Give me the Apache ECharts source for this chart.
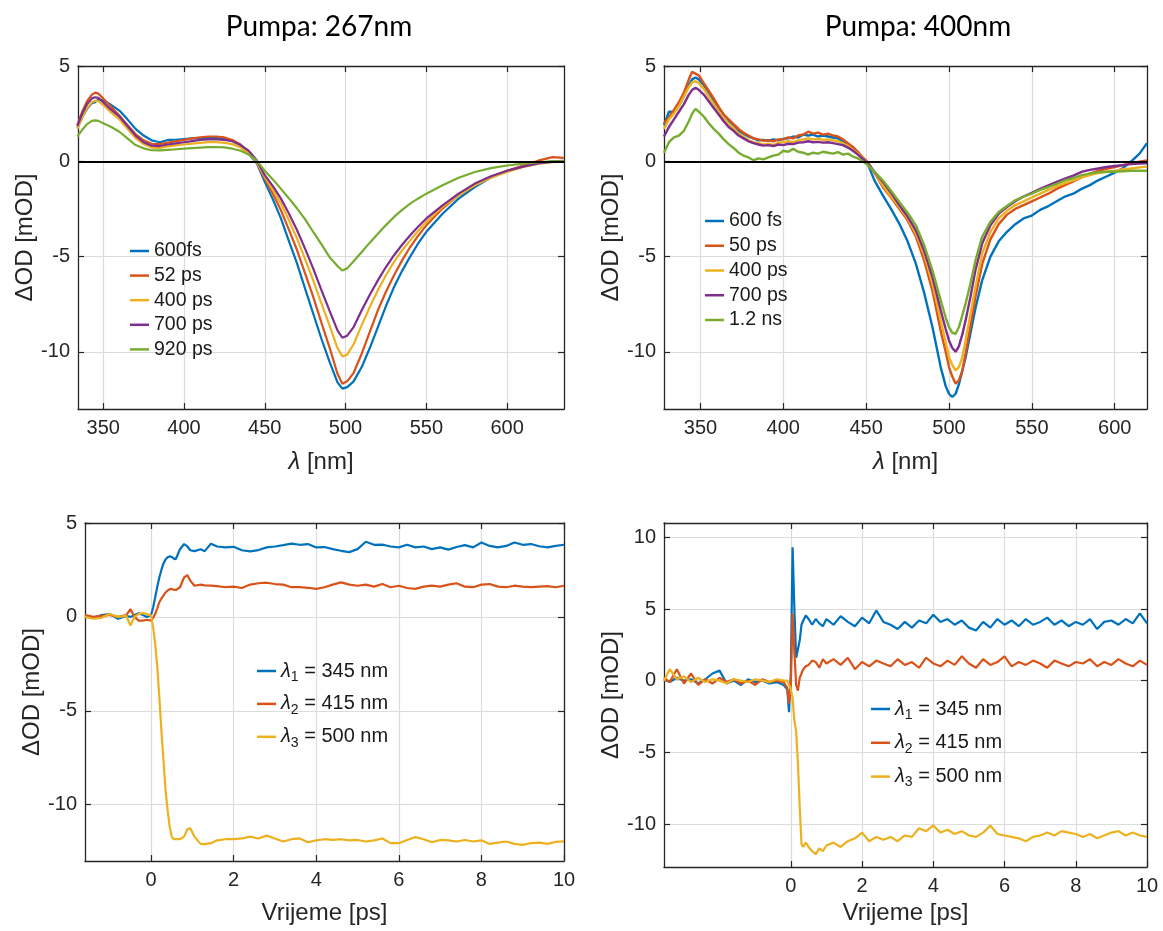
<!DOCTYPE html>
<html><head><meta charset="utf-8">
<script src="https://cdn.jsdelivr.net/npm/echarts@6/dist/echarts.min.js"></script>
<style>html,body{margin:0;padding:0;background:#fff}#c{width:1163px;height:931px}</style>
</head><body><div id="c"></div>
<script>
// ---------- Plot 1: Pumpa 267nm ----------
const wl1 = [334,337,340,343,345,347,350,355,360,365,370,375,380,385,390,395,400,405,410,415,420,425,430,435,440,445,450,455,460,465,470,475,480,485,490,495,498,501,505,510,515,520,525,530,535,540,545,550,560,570,580,590,600,610,620,628,635];
const p1_600fs = [1.75,2.3,2.75,3.05,3.1,3.25,3.2,2.95,2.66,2.2,1.7,1.35,1.1,1.0,1.12,1.13,1.17,1.2,1.22,1.23,1.22,1.18,1.08,0.85,0.4,-0.1,-1.08,-2.0,-3.0,-4.2,-5.37,-6.7,-8.0,-9.3,-10.5,-11.6,-11.93,-11.85,-11.55,-10.8,-9.8,-8.7,-7.6,-6.6,-5.75,-5.0,-4.3,-3.7,-2.75,-1.96,-1.35,-0.86,-0.5,-0.25,-0.08,0.0,0.02];
const p1_52ps = [1.9,2.6,3.15,3.5,3.6,3.55,3.3,2.85,2.4,1.9,1.43,1.1,0.92,0.9,0.98,1.05,1.12,1.2,1.26,1.3,1.3,1.25,1.12,0.88,0.47,-0.05,-0.91,-1.7,-2.57,-3.6,-4.67,-5.9,-7.12,-8.45,-9.75,-11.15,-11.67,-11.55,-11.1,-10.1,-8.95,-7.82,-6.85,-5.98,-5.2,-4.5,-3.9,-3.36,-2.48,-1.78,-1.26,-0.82,-0.5,-0.22,0.05,0.22,0.18];
const p1_400ps = [1.7,2.3,2.8,3.1,3.18,3.15,2.95,2.55,2.2,1.7,1.22,0.9,0.72,0.7,0.78,0.83,0.88,0.93,0.97,1.0,1.0,0.97,0.9,0.72,0.42,-0.05,-0.82,-1.5,-2.22,-3.1,-4.06,-5.15,-6.25,-7.45,-8.6,-9.8,-10.24,-10.15,-9.6,-8.6,-7.65,-6.77,-5.98,-5.28,-4.68,-4.15,-3.65,-3.18,-2.4,-1.78,-1.26,-0.86,-0.56,-0.3,-0.12,-0.04,0.0];
const p1_700ps = [1.85,2.5,3.0,3.3,3.36,3.33,3.1,2.7,2.35,1.85,1.35,1.0,0.82,0.8,0.88,0.94,1.0,1.06,1.12,1.15,1.15,1.12,1.05,0.85,0.56,0.05,-0.73,-1.3,-1.96,-2.75,-3.62,-4.6,-5.63,-6.75,-7.82,-8.87,-9.26,-9.15,-8.7,-7.82,-7.0,-6.25,-5.55,-4.93,-4.38,-3.88,-3.42,-3.0,-2.31,-1.7,-1.17,-0.79,-0.5,-0.28,-0.1,-0.03,0.0];
const p1_920ps = [1.3,1.65,1.95,2.12,2.15,2.12,2.0,1.8,1.55,1.2,0.85,0.68,0.58,0.57,0.6,0.63,0.66,0.69,0.72,0.74,0.75,0.73,0.66,0.55,0.36,0.05,-0.5,-0.95,-1.45,-1.95,-2.48,-3.05,-3.71,-4.35,-5.02,-5.5,-5.73,-5.62,-5.25,-4.76,-4.27,-3.8,-3.35,-2.92,-2.55,-2.22,-1.95,-1.7,-1.26,-0.86,-0.56,-0.36,-0.22,-0.12,-0.05,0.0,0.0];

// ---------- Plot 2: Pumpa 400nm ----------
const wl2 = [328,331,334,337,340,343,345,347,349,352,355,358,361,364,367,370,373,376,379,382,385,388,391,394,397,400,403,406,409,412,415,418,421,424,427,430,433,436,439,442,445,448,451,455,460,465,470,475,480,485,490,495,498,500,502,504,506,508,510,513,516,520,525,530,535,540,545,550,555,560,565,570,575,580,585,590,595,600,605,610,615,619.5];
const p2_600fs = [1.9,2.6,2.6,2.9,3.4,4.0,4.3,4.4,4.3,4.0, 3.6,3.2,2.8,2.45,2.15,1.9,1.6,1.45,1.3,1.2, 1.1,1.12,1.08,1.15,1.1,1.18,1.2,1.3,1.25,1.4, 1.35,1.4,1.3,1.35,1.3,1.25,1.2,1.05,0.9,0.7, 0.45,0.15,-0.15,-1.0,-1.78,-2.5,-3.27,-4.2,-5.37,-6.9, -8.7,-10.8,-11.8,-12.2,-12.37,-12.2,-11.7,-11.0,-10.3,-9.0, -7.7,-6.25,-5.0,-4.2,-3.7,-3.3,-3.0,-2.85,-2.55,-2.35, -2.1,-1.85,-1.7,-1.45,-1.25,-1.0,-0.8,-0.6,-0.35,0.0, 0.4,0.95];
const p2_50ps = [2.0,2.3,2.7,3.1,3.6,4.3,4.7,4.6,4.5,4.1, 3.7,3.3,2.85,2.45,2.2,1.95,1.7,1.5,1.35,1.2, 1.15,1.08,1.1,1.05,1.15,1.15,1.25,1.2,1.35,1.4, 1.55,1.45,1.5,1.4,1.45,1.35,1.3,1.15,0.95,0.75, 0.5,0.2,-0.05,-0.6,-1.35,-1.9,-2.5,-3.1,-3.95,-5.2, -6.8,-8.9,-10.0,-10.8,-11.3,-11.67,-11.5,-11.0,-10.1,-8.6, -7.1,-5.4,-4.1,-3.3,-2.8,-2.5,-2.3,-2.1,-1.9,-1.7, -1.45,-1.25,-1.05,-0.85,-0.65,-0.5,-0.4,-0.3,-0.2,-0.1, -0.02,0.05];
const p2_400ps = [1.7,2.2,2.5,2.9,3.4,3.9,4.15,4.2,4.1,3.8, 3.4,3.0,2.6,2.25,1.95,1.75,1.45,1.3,1.1,1.0, 0.95,0.88,0.92,0.85,0.98,1.0,1.05,1.0,1.1,1.15, 1.2,1.15,1.18,1.12,1.15,1.1,1.05,0.95,0.8,0.6, 0.4,0.15,-0.1,-0.6,-1.26,-1.85,-2.4,-3.0,-3.8,-4.9, -6.42,-8.35,-9.5,-10.27,-10.7,-10.97,-10.8,-10.3,-9.4,-8.0, -6.6,-4.85,-3.71,-3.0,-2.6,-2.3,-2.1,-1.9,-1.7,-1.5, -1.3,-1.15,-1.0,-0.85,-0.72,-0.62,-0.55,-0.5,-0.42,-0.38, -0.32,-0.28];
const p2_700ps = [1.3,1.8,2.2,2.6,3.0,3.5,3.75,3.85,3.75,3.5, 3.15,2.8,2.45,2.1,1.8,1.6,1.35,1.2,1.05,0.95, 0.88,0.82,0.85,0.8,0.88,0.85,0.92,0.9,0.98,1.0, 1.05,1.0,1.02,0.98,1.0,0.95,0.9,0.85,0.72,0.55, 0.35,0.12,-0.1,-0.55,-1.08,-1.65,-2.3,-2.9,-3.62,-4.7, -6.07,-7.82,-8.8,-9.4,-9.8,-10.0,-9.7,-9.1,-8.35,-7.1, -5.7,-4.32,-3.36,-2.75,-2.4,-2.1,-1.85,-1.65,-1.45,-1.26, -1.08,-0.91,-0.75,-0.56,-0.45,-0.38,-0.3,-0.25,-0.2,-0.15, -0.12,-0.1];
const p2_1200ps = [0.45,1.0,1.25,1.35,1.6,2.1,2.5,2.75,2.6,2.35, 2.0,1.7,1.45,1.15,0.9,0.7,0.45,0.3,0.2,0.05, 0.15,0.1,0.2,0.3,0.35,0.55,0.5,0.65,0.5,0.45, 0.35,0.45,0.4,0.5,0.45,0.4,0.48,0.35,0.4,0.25, 0.15,0.0,-0.2,-0.55,-1.0,-1.55,-2.13,-2.7,-3.36,-4.4, -5.72,-7.3,-8.2,-8.7,-9.0,-9.05,-8.7,-8.1,-7.47,-6.4, -5.2,-3.97,-3.18,-2.66,-2.35,-2.05,-1.85,-1.7,-1.5,-1.35, -1.18,-1.0,-0.88,-0.73,-0.65,-0.58,-0.55,-0.55,-0.52,-0.5, -0.5,-0.5];

// ---------- Plot 3: kinetics, pump 267nm ----------
const t3 = [-1.6,-1.4,-1.2,-1.0,-0.8,-0.6,-0.5,-0.4,-0.3,-0.2,-0.1, 0,0.05,0.1,0.15,0.2,0.25,0.3,0.35,0.4,0.45,0.5,0.55,0.6, 0.7,0.8,0.88,0.95,1.05,1.2,1.3,1.45,1.6,1.8, 2.0,2.2,2.4,2.6,2.8,3.0,3.2,3.4,3.6,3.8,4.0,4.2,4.4,4.6,4.8,5.0,5.2,5.4,5.6,5.8,6.0,6.2,6.4,6.6,6.8,7.0,7.2,7.4,7.6,7.8,8.0,8.2,8.4,8.6,8.8,9.0,9.2,9.4,9.6,9.8,10.0];
const p3_345 = [0.05,-0.05,0.1,0.15,-0.1,0.05,0.0,0.1,0.2,0.1,0.0, 0.1,0.5,1.04,1.6,2.1,2.5,2.85,3.05,3.17,3.22,3.2,3.1,3.08, 3.6,3.88,3.75,3.55,3.5,3.6,3.5,3.9,3.75,3.7, 3.73,3.55,3.49,3.56,3.7,3.75,3.82,3.9,3.84,3.88, 3.7,3.72,3.61,3.52,3.45,3.61,4.0,3.84,3.85,3.75, 3.7,3.84,3.7,3.75,3.61,3.7,3.58,3.72,3.82,3.7, 3.96,3.78,3.7,3.78,3.96,3.84,3.88,3.76,3.7,3.78, 3.84];
const p3_415 = [0.1,0.0,0.05,0.1,0.0,0.1,0.42,0.0,-0.2,-0.2,-0.15, -0.2,-0.05,0.16,0.45,0.78,0.98,1.13,1.3,1.4,1.47,1.49,1.45,1.43, 1.58,2.1,2.23,1.93,1.66,1.72,1.68,1.66,1.64,1.58, 1.61,1.54,1.72,1.79,1.82,1.75,1.72,1.58,1.58,1.55, 1.49,1.58,1.72,1.84,1.72,1.66,1.72,1.61,1.75,1.58, 1.66,1.54,1.49,1.61,1.66,1.61,1.72,1.79,1.61,1.58, 1.72,1.75,1.61,1.58,1.66,1.61,1.58,1.61,1.64,1.58, 1.66];
const p3_500 = [0.0,-0.1,-0.05,0.15,0.0,0.05,-0.46,0.0,0.16,0.2,0.15, 0.07,-0.55,-1.43,-2.67,-4.27,-6.04,-7.63,-9.22,-10.28,-11.17,-11.7,-11.84,-11.84, -11.84,-11.7,-11.3,-11.26,-11.7,-12.09,-12.1,-12.05,-11.9,-11.84, -11.84,-11.8,-11.7,-11.8,-11.65,-11.8,-11.96,-11.84,-11.8,-12.0, -11.9,-11.84,-11.88,-11.84,-11.9,-11.88,-11.96,-11.9,-11.8,-12.05, -12.05,-11.88,-11.73,-11.84,-12.0,-11.88,-11.9,-11.96,-11.88,-11.96, -11.9,-12.09,-12.02,-11.96,-12.09,-12.14,-12.05,-12.02,-12.09,-11.98, -11.96];

// ---------- Plot 4: kinetics, pump 400nm ----------
const t4 = [-3.56,-3.4,-3.2,-3.0,-2.8,-2.6,-2.4,-2.2,-2.0,-1.8,-1.6,-1.4,-1.2,-1.0,-0.8,-0.6,-0.4,-0.2, -0.1,-0.05,0,0.05,0.1,0.15,0.2,0.25,0.3,0.35,0.42,0.5,0.6,0.7,0.8,0.9,1.0, 1.2,1.4,1.6,1.8,2.0,2.2,2.4,2.6,2.8,3.0,3.2,3.4,3.6,3.8,4.0,4.2,4.4,4.6,4.8,5.0,5.2,5.4,5.6,5.8,6.0,6.2,6.4,6.6,6.8,7.0,7.2,7.4,7.6,7.8,8.0,8.2,8.4,8.6,8.8,9.0,9.2,9.4,9.6,9.8,10.0];
const p4_345 = [0.1,-0.1,0.2,0.0,0.1,-0.2,0.1,0.5,0.7,-0.2,0.0,-0.3,0.1,-0.1,0.0,-0.2,-0.1,-0.3, -0.6,-2.2,0.5,9.3,5.0,1.6,1.5,2.8,3.9,4.2,4.55,4.3,3.9,4.3,4.0,3.8,4.3, 3.9,4.5,4.1,3.8,4.4,4.0,4.9,4.1,3.9,3.6, 4.1,3.7,4.2,4.0,4.6,4.1,4.3,3.9,4.2,3.7, 3.5,4.1,3.7,4.3,3.9,4.2,3.8,4.3,3.9,4.1, 4.4,3.9,4.2,3.8,4.1,3.9,4.3,3.6,4.1,4.2, 3.9,4.3,4.0,4.7,4.0];
const p4_415 = [0.2,-0.1,0.8,-0.2,0.5,-0.3,0.1,-0.2,0.2,-0.1,0.1,-0.2,0.0,-0.3,0.1,-0.1,0.0,-0.1, -0.5,-1.6,-0.3,4.7,2.0,-0.3,-0.7,0.2,0.5,0.8,1.0,1.1,1.4,1.3,0.9,1.5,1.2, 1.5,1.1,1.6,0.8,1.3,1.0,1.4,1.2,1.0,1.5, 1.1,1.3,0.9,1.6,1.2,1.0,1.4,1.1,1.7,1.2, 0.9,1.5,1.1,1.3,1.7,1.0,1.3,1.1,1.4,1.2, 0.9,1.4,1.2,1.0,1.3,1.2,1.5,1.0,1.3,1.1, 1.5,1.2,1.0,1.4,1.1];
const p4_500 = [0.0,0.8,0.1,0.3,-0.1,0.2,-0.1,0.1,0.0,-0.2,0.1,0.0,-0.1,0.1,0.0,-0.1,0.1,0.0, 0.0,-0.3,-0.6,-1.2,-2.8,-3.5,-5.8,-8.8,-11.4,-11.6,-11.3,-11.6,-11.9,-12.1,-11.7,-11.9,-11.5, -11.3,-11.6,-11.2,-11.0,-10.6,-11.2,-10.9,-11.1,-10.9,-11.2, -10.8,-10.9,-10.3,-10.5,-10.1,-10.6,-10.4,-10.7,-10.5,-10.8, -10.9,-10.6,-10.1,-10.7,-10.8,-10.9,-11.0,-11.2,-10.9,-10.8, -10.6,-10.8,-10.5,-10.6,-10.7,-10.9,-10.7,-11.0,-10.8,-10.6, -10.5,-10.8,-10.6,-10.8,-10.9];

// ---------- labels & ticks ----------
const titles = ['Pumpa: 267nm', 'Pumpa: 400nm'];
const names1 = ['600fs','52 ps','400 ps','700 ps','920 ps'];
const names2 = ['600 fs','50 ps','400 ps','700 ps','1.2 ns'];
const names34 = ['λ1 = 345 nm','λ2 = 415 nm','λ3 = 500 nm'];
const wlTicks = [350,400,450,500,550,600];
const tTicks = [0,2,4,6,8,10];
const yTicksA = [-10,-5,0,5];
const yTicksB = [-10,-5,0,5,10];

const C = ['#0072BD','#D95319','#EDB120','#7E2F8E','#77AC30'];
const AX = '#262626';
const FONT = 'Liberation Sans, Arial, sans-serif';

function zip(xs, ys){ return xs.map((x,i)=>[x, ys[i]]); }

const grids = [
  {left:78, top:66, width:486, height:343, outerBoundsMode:'none'},
  {left:664, top:66, width:483, height:343, outerBoundsMode:'none'},
  {left:85, top:523, width:479, height:338, outerBoundsMode:'none'},
  {left:664, top:523, width:483, height:344, outerBoundsMode:'none'}
];

function baseAxis(gi, min, max, ticks){
  return {type:'value', gridIndex:gi, min:min, max:max,
    axisLine:{show:true, onZero:false, lineStyle:{color:AX, width:1.3}},
    axisTick:{show:true, inside:true, length:6, customValues:ticks, lineStyle:{color:AX, width:1.2}}};
}
function xAxes(gi, min, max, ticks, name, gap){
  const a = baseAxis(gi,min,max,ticks);
  a.position='bottom';
  a.axisLabel={customValues:ticks, color:AX, fontSize:20, fontFamily:FONT, margin:9};
  a.splitLine={show:true, lineStyle:{color:'#dcdcdc', width:1.2}};
  a.name=name; a.nameLocation='middle'; a.nameGap=gap;
  a.nameTextStyle={fontSize:24, color:AX, fontFamily:FONT, rich:{i:{fontSize:24, fontStyle:'italic', color:AX, fontFamily:FONT}}};
  const b = baseAxis(gi,min,max,ticks);
  b.position='top'; b.axisLabel={show:false}; b.splitLine={show:false};
  return [a,b];
}
function yAxes(gi, min, max, ticks, gap){
  const a = baseAxis(gi,min,max,ticks);
  a.position='left';
  a.axisLabel={customValues:ticks, color:AX, fontSize:20, fontFamily:FONT, margin:8};
  a.splitLine={show:true, lineStyle:{color:'#dcdcdc', width:1.2}};
  a.name='ΔOD [mOD]'; a.nameLocation='middle'; a.nameGap=gap; a.nameRotate=90;
  a.nameTextStyle={fontSize:24, color:AX, fontFamily:FONT};
  const b = baseAxis(gi,min,max,ticks);
  b.position='right'; b.axisLabel={show:false}; b.splitLine={show:false};
  return [a,b];
}

const xAxis = [].concat(
  xAxes(0, 334.4, 635.2, wlTicks, '{i|λ} [nm]', 41),
  xAxes(1, 328, 619.5, wlTicks, '{i|λ} [nm]', 41),
  xAxes(2, -1.6, 10, tTicks, 'Vrijeme [ps]', 40),
  xAxes(3, -3.56, 10, tTicks, 'Vrijeme [ps]', 34)
);
const yAxis = [].concat(
  yAxes(0, -13, 5, yTicksA, 41),
  yAxes(1, -13, 5, yTicksA, 40),
  yAxes(2, -13, 5, yTicksA, 41),
  yAxes(3, -13, 11, yTicksB, 40)
);

function line(gi, name, xs, ys, color, width){
  return {type:'line', name:name, xAxisIndex:2*gi, yAxisIndex:2*gi, data:zip(xs,ys),
    symbol:'none', showSymbol:false, smooth:false, animation:false,
    lineStyle:{width:width, color:color}, itemStyle:{color:color}};
}
const zeroLine = {silent:true, symbol:['none','none'], label:{show:false},
  lineStyle:{color:'#000', width:2.2, type:'solid'}, data:[{yAxis:0}]};

const s1 = [p1_600fs,p1_52ps,p1_400ps,p1_700ps,p1_920ps].map((d,i)=>line(0,names1[i],wl1,d,C[i],2.2));
s1[4].markLine = zeroLine;
const s2 = [p2_600fs,p2_50ps,p2_400ps,p2_700ps,p2_1200ps].map((d,i)=>line(1,names2[i],wl2,d,C[i],2.4));
s2[4].markLine = JSON.parse(JSON.stringify(zeroLine));
const s3 = [p3_345,p3_415,p3_500].map((d,i)=>line(2,names34[i],t3,d,C[i],2.2));
const s4 = [p4_345,p4_415,p4_500].map((d,i)=>line(3,names34[i],t4,d,C[i],2.2));

const legText = {fontSize:19.5, fontFamily:FONT, color:'#1a1a1a', lineHeight:20};
const subRich = {
  i:{fontSize:20, fontStyle:'italic', fontFamily:FONT, color:'#1a1a1a', lineHeight:26},
  s:{fontSize:14, fontFamily:FONT, color:'#1a1a1a', lineHeight:14, verticalAlign:'bottom'},
  t:{fontSize:20, fontFamily:FONT, color:'#1a1a1a', lineHeight:26}
};
function subFmt(n){ return '{i|' + n[0] + '}{s|' + n[1] + '}{t|' + n.slice(2) + '}'; }
const legCommon = {orient:'vertical', icon:'rect', itemWidth:19, itemHeight:2.5, selectedMode:false};

const option = {
  animation:false,
  backgroundColor:'#fff',
  grid: grids,
  xAxis: xAxis,
  yAxis: yAxis,
  graphic: [
    {type:'text', x:319, y:27, style:{text:titles[0], fontSize:28, fontFamily:'Lato', fill:'#000', align:'center', verticalAlign:'middle'}},
    {type:'text', x:918, y:27, style:{text:titles[1], fontSize:28, fontFamily:'Lato', fill:'#000', align:'center', verticalAlign:'middle'}}
  ],
  legend: [
    Object.assign({data:names1, left:125, top:236, itemGap:4.6, textStyle:legText}, legCommon),
    Object.assign({data:names2, left:700, top:206, itemGap:4.75, textStyle:legText}, legCommon),
    Object.assign({data:names34, left:252, top:656, itemGap:9.9, formatter:subFmt, textStyle:{rich:subRich}}, legCommon),
    Object.assign({data:names34, left:866, top:694, itemGap:10.8, formatter:subFmt, textStyle:{rich:subRich}}, legCommon)
  ],
  series: [].concat(s1, s2, s3, s4)
};
const chart = echarts.init(document.getElementById('c'), null, {renderer:'canvas'});
chart.setOption(option);
</script></body></html>
